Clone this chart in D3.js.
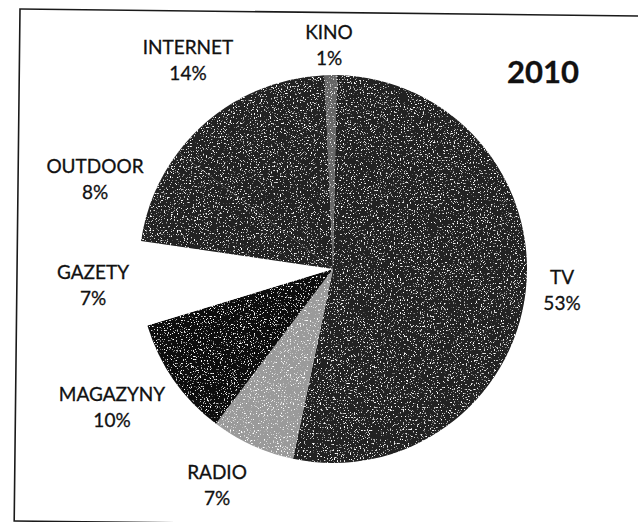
<!DOCTYPE html>
<html>
<head>
<meta charset="utf-8">
<script src="https://cdn.jsdelivr.net/npm/d3@7/dist/d3.min.js"></script>
<style>
  html, body { margin: 0; padding: 0; background: #fff; }
  svg { display: block; }
  text { font-family: Lato, "Open Sans", sans-serif; fill: #111; stroke: #111; stroke-width: 0.3px; }
</style>
</head>
<body>
<script>
// Advertising spend split by medium, 2010
const categories = ["KINO", "TV", "RADIO", "MAGAZYNY", "GAZETY", "OUTDOOR", "INTERNET"];
const shares = [1, 53, 7, 10, 7, 8, 14];
const shareLabels = ["1%", "53%", "7%", "10%", "7%", "8%", "14%"];
const yearLabel = "2010";

// Grey tones for each medium (printed halftone look)
const fills = ["#666666", "#202020", "#9a9a9a", "#0a0a0a", "#ffffff", "#222222", "#222222"];

// Label anchor points (name line centre) for each slice, same order as categories
const labelAnchors = [
  [329, 32], [562, 277], [217, 472], [112, 394], [93, 272], [95, 166], [188, 47]
];

const W = 638, H = 522;
const cx = 333, cy = 269, R = 194;
const startOffset = -2.5 * Math.PI / 180;

const svg = d3.select("body").append("svg")
  .attr("width", W).attr("height", H);

const defs = svg.append("defs");
const grain = defs.append("filter")
  .attr("id", "grain")
  .attr("filterUnits", "userSpaceOnUse")
  .attr("x", -R - 4).attr("y", -R - 4)
  .attr("width", 2 * R + 8).attr("height", 2 * R + 8);
grain.append("feTurbulence")
  .attr("type", "fractalNoise")
  .attr("baseFrequency", 0.7)
  .attr("numOctaves", 2)
  .attr("seed", 7)
  .attr("result", "noise");
grain.append("feColorMatrix")
  .attr("in", "noise")
  .attr("type", "matrix")
  .attr("values", "0 0 0 0 1  0 0 0 0 1  0 0 0 0 1  8 0 0 0 -4.9")
  .attr("result", "specks");
grain.append("feComposite")
  .attr("in", "specks").attr("in2", "SourceAlpha")
  .attr("operator", "in").attr("result", "clipped");
const merge = grain.append("feMerge");
merge.append("feMergeNode").attr("in", "SourceGraphic");
merge.append("feMergeNode").attr("in", "clipped");

// Frame around the chart
svg.append("rect")
  .attr("x", 20).attr("y", 9)
  .attr("width", 640).attr("height", 512)
  .attr("transform", "rotate(0.65, 20, 9)")
  .attr("fill", "none")
  .attr("stroke", "#1a1a1a")
  .attr("stroke-width", 1.6);

const data = categories.map((c, i) => ({ name: c, value: shares[i], label: shareLabels[i], fill: fills[i], anchor: labelAnchors[i] }));

const pie = d3.pie()
  .value(d => d.value)
  .sort(null)
  .startAngle(startOffset)
  .endAngle(startOffset + 2 * Math.PI);

const arc = d3.arc().innerRadius(0).outerRadius(R);

const g = svg.append("g")
  .attr("transform", `translate(${cx},${cy})`)
  .attr("filter", "url(#grain)");

g.selectAll("path")
  .data(pie(data))
  .join("path")
  .attr("d", arc)
  .attr("fill", d => d.data.fill);

// Slice labels: name over percentage
const labels = svg.append("g").selectAll("g")
  .data(data)
  .join("g")
  .attr("transform", d => `translate(${d.anchor[0]},${d.anchor[1]})`);

labels.append("text")
  .attr("text-anchor", "middle")
  .attr("dy", "0.36em")
  .attr("font-size", 19)
  .text(d => d.name);

labels.append("text")
  .attr("text-anchor", "middle")
  .attr("y", 26)
  .attr("dy", "0.36em")
  .attr("font-size", 19)
  .text(d => d.label);

svg.append("text")
  .attr("x", 543).attr("y", 72)
  .attr("dy", "0.36em")
  .attr("text-anchor", "middle")
  .attr("font-size", 31)
  .attr("font-weight", "bold")
  .text(yearLabel);
</script>
</body>
</html>
